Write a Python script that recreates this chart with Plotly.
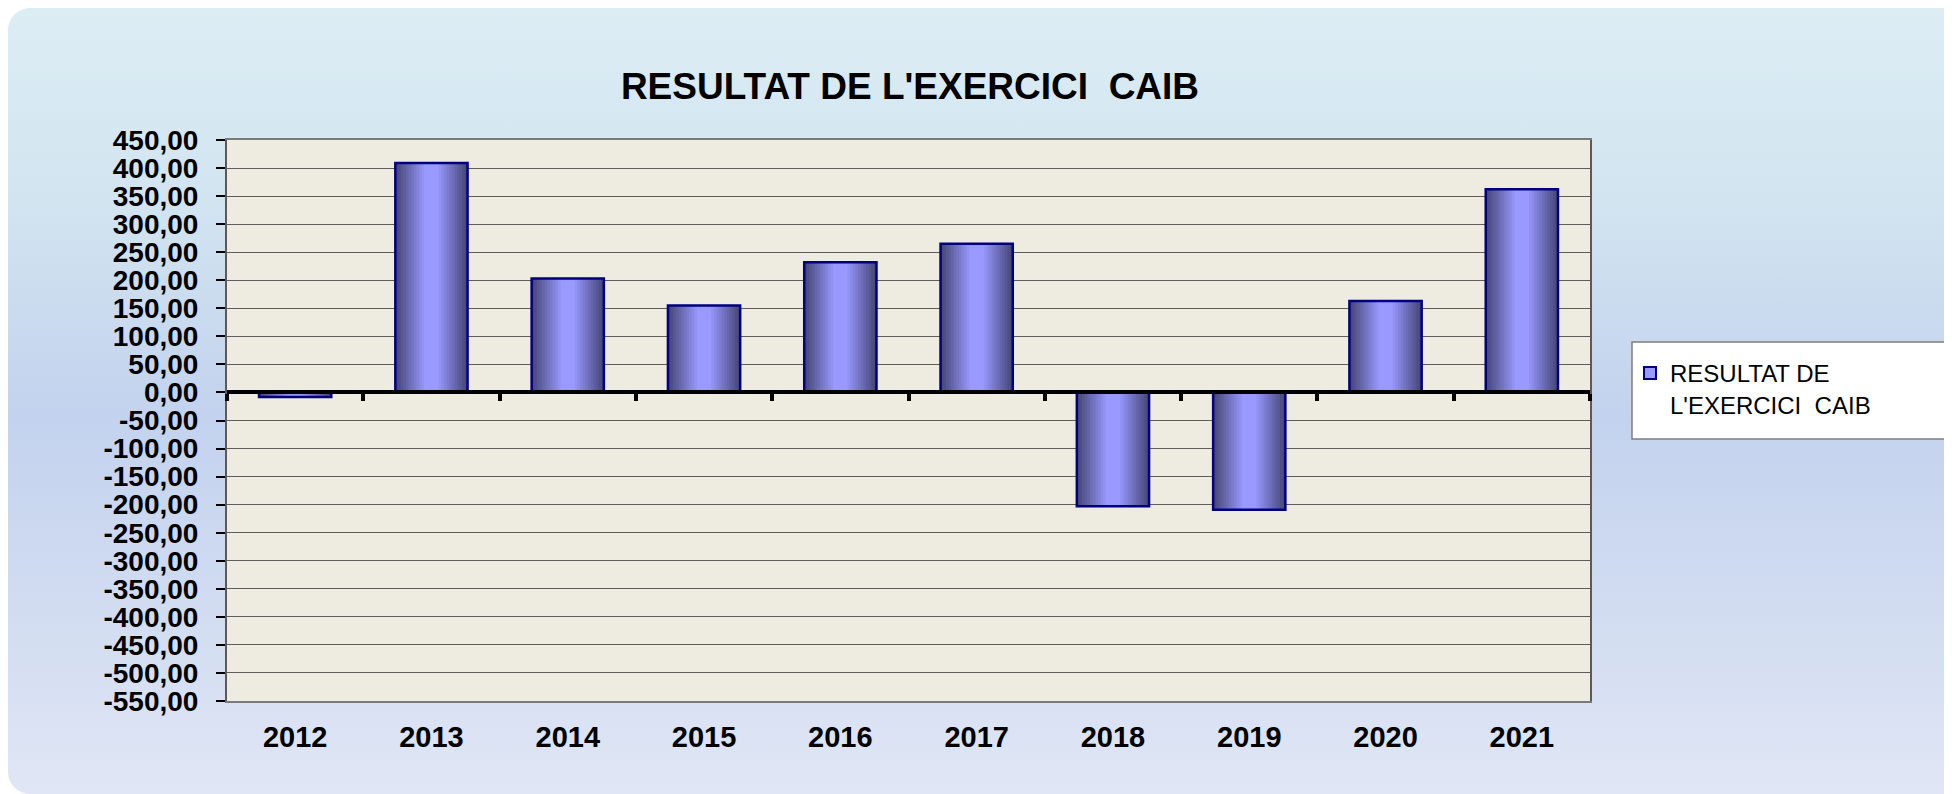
import base64
import plotly.graph_objects as go

# data
years = ['2012', '2013', '2014', '2015', '2016', '2017', '2018', '2019', '2020', '2021']
resultat = [-8, 409, 203, 155, 232, 265, -203, -209, 163, 362]
y_ticks = list(range(-550, 451, 50))
y_labels = [f"{v:.2f}".replace('.', ',') for v in y_ticks]
series_name = "RESULTAT DE<br>L'EXERCICI  CAIB"

W, H = 1952, 794
# plot area in figure pixels
L, R, T, B = 219, 1582, 132, 693
pw, ph = R - L, B - T


def px_x(x):
    return (x - L) / pw


def px_y(y):
    return (B - y) / ph


FONT = "Arial, Liberation Sans, sans-serif"
BAR_W = 0.53

# background panel: rounded rect with vertical gradient
bw, bh = 1980, 786
svg = f"""<svg xmlns='http://www.w3.org/2000/svg' width='{bw}' height='{bh}' viewBox='0 0 {bw} {bh}'>
<defs><linearGradient id='g' x1='0' y1='0' x2='0' y2='1'>
<stop offset='0' stop-color='#dcedf4'/>
<stop offset='0.25' stop-color='#d2e4f0'/>
<stop offset='0.52' stop-color='#c3d2ee'/>
<stop offset='0.78' stop-color='#d2ddf1'/>
<stop offset='1' stop-color='#e0e6f5'/>
</linearGradient></defs>
<rect x='0' y='0' width='{bw}' height='{bh}' rx='22' ry='22' fill='url(#g)'/>
</svg>"""
bg_src = "data:image/svg+xml;base64," + base64.b64encode(svg.encode()).decode()

fig = go.Figure()

# stepped horizontal gradient: nested bars, dark at the edges, light in the middle
n_steps = 12
dark = (72, 72, 122)
light = (153, 153, 255)
for k in range(n_steps):
    t = k / (n_steps - 1)
    col = tuple(round(dark[i] + (light[i] - dark[i]) * t) for i in range(3))
    w = BAR_W * (1 - 0.8 * k / (n_steps - 1))
    fig.add_trace(go.Bar(
        x=years, y=resultat, width=w,
        marker=dict(color=f"rgb{col}", line=dict(width=0)),
        showlegend=False, hoverinfo='skip'
    ))

# outline on top, on the axis that draws the zero line
fig.add_trace(go.Bar(
    x=years, y=resultat, width=BAR_W, xaxis='x2',
    marker=dict(color='rgba(0,0,0,0)', line=dict(color='#000080', width=2.5)),
    showlegend=False, name="RESULTAT DE L'EXERCICI  CAIB"
))

# legend entry
fig.add_trace(go.Bar(
    x=[None], y=[None], name=series_name,
    marker=dict(color='#9999ff', line=dict(color='#000080', width=2))
))

fig.update_layout(
    width=W, height=H,
    barmode='overlay',
    paper_bgcolor='white',
    plot_bgcolor='rgba(0,0,0,0)',
    margin=dict(l=L, r=W - R, t=T, b=H - B),
    font=dict(family=FONT, color='black'),
    title=dict(
        text="<b>RESULTAT DE L'EXERCICI  CAIB</b>",
        font=dict(family=FONT, size=37, color='black'),
        x=902 / W, xanchor='center', xref='container',
        y=1 - 78 / H, yanchor='middle', yref='container'
    ),
    xaxis=dict(
        type='category', range=[-0.5, 9.5],
        showline=True, linecolor='#7a7a7a', linewidth=2, mirror=True,
        ticks='', showgrid=False, zeroline=False,
        tickfont=dict(family=FONT, size=29, color='black', weight='bold'),
        ticklabelstandoff=9,
    ),
    xaxis2=dict(
        type='category', range=[-0.5, 9.5], overlaying='x',
        anchor='free', position=550 / 1000,
        showline=True, linecolor='black', linewidth=4,
        ticks='outside', tickson='boundaries', ticklen=7, tickwidth=4, tickcolor='black',
        showticklabels=False, showgrid=False, zeroline=False, layer='above traces',
    ),
    yaxis=dict(
        range=[-550, 450],
        tickvals=y_ticks, ticktext=y_labels,
        showline=True, linecolor='#5a5a5a', linewidth=2, mirror=True,
        ticks='outside', ticklen=9, tickwidth=1.5, tickcolor='black',
        showgrid=True, gridcolor='#5e5e5e', gridwidth=1.3,
        zeroline=False,
        tickfont=dict(family=FONT, size=28, color='black', weight='bold'),
        ticklabelstandoff=12,
    ),
    legend=dict(
        x=px_x(1622), y=px_y(343), xanchor='left', yanchor='top',
        bgcolor='rgba(0,0,0,0)', borderwidth=0, valign='top',
        font=dict(family=FONT, size=24, color='black'),
    ),
    images=[dict(
        source=bg_src, xref='paper', yref='paper',
        x=px_x(0), y=px_y(0), sizex=bw / pw, sizey=bh / ph,
        xanchor='left', yanchor='top', sizing='stretch', layer='below'
    )],
    shapes=[
        # plot area background
        dict(type='rect', xref='paper', yref='paper', x0=0, x1=1, y0=0, y1=1,
             fillcolor='#eeebe0', line=dict(width=0), layer='below'),
        # legend box
        dict(type='rect', xref='paper', yref='paper',
             x0=px_x(1624), x1=px_x(1937), y0=px_y(431), y1=px_y(334),
             fillcolor='white', line=dict(color='#7f7f7f', width=1.5), layer='below'),
    ],
)

fig.write_html("out.html")
